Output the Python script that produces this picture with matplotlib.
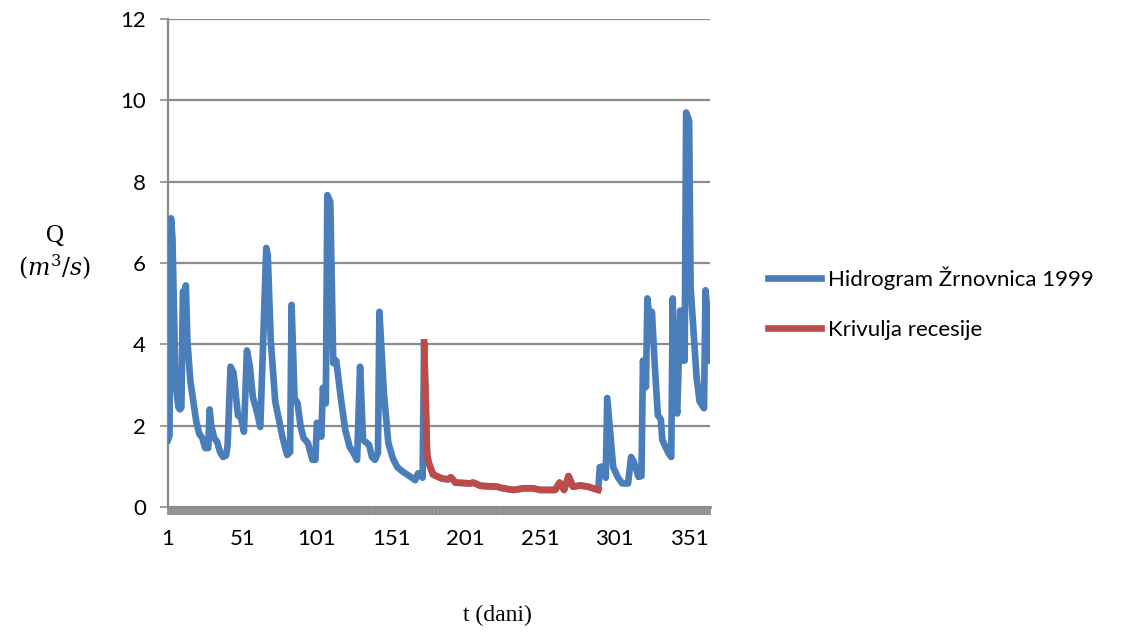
import matplotlib.pyplot as plt
import numpy as np

# hidrogram Zrnovnica 1999, (dan, Q) procitano sa slike
dani_a = [1, 2, 3, 4, 6, 8, 9, 10, 11, 12, 13, 14, 16, 18, 20, 22, 24, 26, 28, 29, 30, 32, 34,
          36, 38, 40, 41, 43, 45, 48, 50, 52, 54, 56, 58, 61, 63, 67, 68, 70, 73, 78, 81, 83,
          84, 86, 88, 90, 92, 95, 98, 100, 101, 104, 105, 107, 108, 110, 112, 114, 117, 120,
          123, 126, 128, 130, 132, 136, 138, 140, 142, 143, 146, 149, 152, 155, 159, 164,
          167, 169, 171, 172]
q_a = [1.65, 1.75, 7.1, 6.6, 3.1, 2.45, 2.4, 2.45, 5.3, 5.25, 5.45, 4.1, 3.1, 2.6, 2.1, 1.8, 1.7,
       1.45, 1.45, 2.4, 2.0, 1.7, 1.6, 1.35, 1.23, 1.27, 1.5, 3.45, 3.3, 2.25, 2.2, 1.85, 3.85,
       3.45, 2.7, 2.3, 1.97, 6.37, 6.2, 4.1, 2.6, 1.7, 1.28, 1.35, 4.97, 2.68, 2.55, 2.0,
       1.7, 1.57, 1.16, 1.16, 2.07, 1.73, 2.93, 2.55, 7.67, 7.5, 3.54, 3.6, 2.7, 1.9, 1.48,
       1.3, 1.16, 3.45, 1.65, 1.53, 1.23, 1.16, 1.33, 4.8, 2.8, 1.57, 1.2, 0.98, 0.86, 0.74,
       0.66, 0.83, 0.78, 0.72]

# krivulja recesije
dani_r = [173, 175, 176, 179, 185, 189, 191, 194, 204, 206, 211, 222, 226, 233, 240, 246,
          251, 261, 264, 267, 270, 273, 278, 283, 290]
q_r = [4.05, 1.3, 1.1, 0.8, 0.7, 0.68, 0.73, 0.6, 0.58, 0.6, 0.52, 0.5, 0.46, 0.42, 0.46,
       0.46, 0.42, 0.42, 0.6, 0.42, 0.76, 0.5, 0.53, 0.5, 0.42]

dani_b = [291, 293, 295, 296, 300, 303, 306, 310, 312, 314, 317, 319, 320, 322, 323, 325, 326,
          328, 330, 332, 333, 337, 339, 340, 341, 343, 345, 347, 348, 349, 351, 352, 356,
          358, 361, 362, 364, 365]
q_b = [0.98, 1.0, 0.72, 2.68, 0.98, 0.74, 0.58, 0.58, 1.23, 1.1, 0.74, 0.76, 3.6, 2.95,
       5.13, 4.35, 4.8, 3.45, 2.26, 2.15, 1.65, 1.33, 1.23, 5.13, 3.05, 2.3, 4.83, 3.6, 3.6,
       9.7, 9.5, 5.4, 3.2, 2.6, 2.43, 5.33, 4.5, 3.6]

dani_h = dani_a + dani_r + dani_b
q_h = q_a + q_r + q_b

x_ticks = [1, 51, 101, 151, 201, 251, 301, 351]
y_ticks = [0, 2, 4, 6, 8, 10, 12]

fig = plt.figure(figsize=(11.23, 6.34), dpi=100)
ax = fig.add_axes([0.1496, 0.2003, 0.4826, 0.7697])

siva = '#8c8c8c'
ax.plot(dani_h, q_h, color='#4a7ebb', lw=4.8, solid_joinstyle='round',
        label='Hidrogram Žrnovnica 1999', zorder=3)
ax.plot(dani_r, q_r, color='#be4b48', lw=4.8, solid_joinstyle='round',
        label='Krivulja recesije', zorder=4)

ax.set_xlim(1, 365)
ax.set_ylim(0, 12)
ax.set_yticks(y_ticks)
ax.set_xticks(x_ticks)
ax.set_xticks(np.arange(1, 366), minor=True)
ax.grid(axis='y', color=siva, lw=1.6, zorder=0)
ax.tick_params(axis='x', which='minor', length=6, width=1.3, color=siva)
ax.tick_params(axis='x', which='major', length=6, width=1.3, color=siva, pad=10,
               labelsize=16)
ax.tick_params(axis='y', length=6, width=1.2, color=siva, pad=10, labelsize=16)
for lab in ax.get_xticklabels() + ax.get_yticklabels():
    lab.set_family('Lato')

for s in ['top', 'right']:
    ax.spines[s].set_visible(False)
ax.spines['left'].set_color(siva)
ax.spines['left'].set_linewidth(1.6)
ax.spines['bottom'].set_color(siva)
ax.spines['bottom'].set_linewidth(2)

fig.text(0.049, 0.628, 'Q', ha='center', va='center', fontsize=18, family='Liberation Serif')
fig.text(0.049, 0.578, r'$(m^3/s)$', ha='center', va='center', fontsize=17,
         math_fontfamily='dejavuserif')
fig.text(0.443, 0.030, 't (dani)', ha='center', va='center', fontsize=17,
         family='Liberation Serif')

leg = fig.legend(loc='center left', bbox_to_anchor=(0.684, 0.522), frameon=False,
                 prop={'family': 'Lato', 'size': 16}, handlelength=2.4,
                 handletextpad=0.3, labelspacing=1.35, borderpad=0, borderaxespad=0)

fig.savefig('out.png', dpi=100)
